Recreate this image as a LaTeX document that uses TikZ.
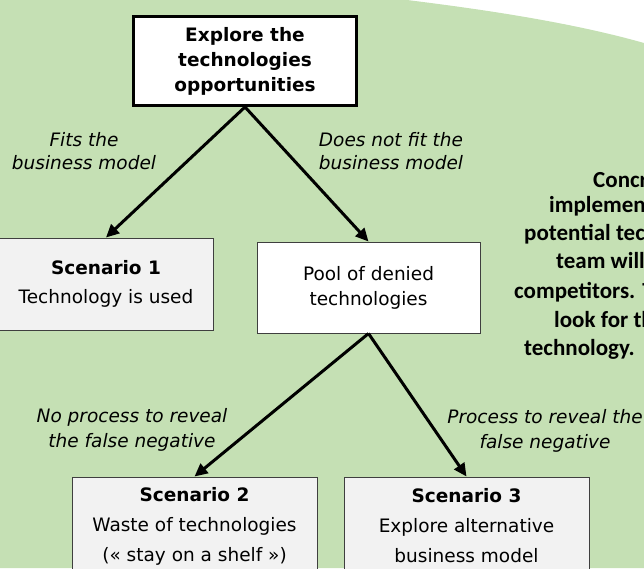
\documentclass[tikz,border=0pt]{standalone}
\usepackage{fontspec}
\setmainfont{DejaVu Sans}[ItalicFont={DejaVu Sans Oblique},BoldFont={DejaVu Sans Bold},BoldItalicFont={DejaVu Sans Bold Oblique}]
\newfontfamily\calibrifont{Carlito}
\usetikzlibrary{arrows.meta}
\definecolor{bggreen}{HTML}{C5E0B4}
\definecolor{scenfill}{HTML}{F2F2F2}
\definecolor{boxline}{HTML}{3F3F3F}
\begin{document}
\begin{tikzpicture}[x=1pt,y=-1pt,
  every node/.style={inner sep=0pt, align=center},
  topbox/.style={draw=black, line width=3pt, fill=white, minimum width=223pt, minimum height=89pt,
    font=\bfseries\fontsize{18.5}{25}\selectfont},
  scenbox/.style={draw=boxline, line width=1pt, fill=scenfill, minimum width=245pt, minimum height=98pt,
    font=\fontsize{18.5}{30}\selectfont},
  poolbox/.style={draw=boxline, line width=1pt, fill=white, minimum width=223pt, minimum height=91pt,
    font=\fontsize{18.5}{25}\selectfont},
  lbl/.style={font=\itshape\fontsize{18.5}{25}\selectfont},
  rtxt/.style={anchor=base west, font=\calibrifont\bfseries\fontsize{23}{28}\selectfont},
  arr/.style={line width=3pt, -{Triangle[length=13pt,width=12pt]}}
]
\useasboundingbox (0,0) rectangle (644,568);
\fill[bggreen] (0,0) -- (407,0) .. controls (480,9) and (570,22) .. (644,43) -- (644,568) -- (0,568) -- cycle;

\node[topbox] (top) at (245,61) {Explore the\\technologies\\opportunities};
\node[scenbox, minimum width=214pt, minimum height=92pt, font=\fontsize{18.5}{29}\selectfont] (s1) at (106,284) {\textbf{Scenario 1}\\Technology is used};
\node[poolbox] (pool) at (368.5,287.5) {Pool of denied\\technologies};
\node[scenbox] (s2) at (194.5,526) {\textbf{Scenario 2}\\Waste of technologies\\(« stay on a shelf »)};
\node[scenbox] (s3) at (466.5,526) {\textbf{Scenario 3}\\Explore alternative\\business model};

\node[lbl, font=\itshape\fontsize{18.5}{23}\selectfont] (l1) at (84,151.5) {Fits the\\business model};
\node[lbl, font=\itshape\fontsize{18.5}{23}\selectfont] (l2) at (391,151.5) {Does not fit the\\business model};
\node[lbl] (l3) at (132,429.5) {No process to reveal\\the false negative};
\node[lbl] (l4) at (545,431) {Process to reveal the\\false negative};

\draw[arr] (top.south) -- (s1.north);
\draw[arr] (top.south) -- (pool.north);
\draw[arr] (pool.south) -- (s2.north);
\draw[arr] (pool.south) -- (s3.north);

\begin{scope}
\clip (0,0) rectangle (644,568);
\node[rtxt] (r1) at (593,187) {Concrete};
\node[rtxt] (r2) at (549,212) {implementation of};
\node[rtxt] (r3) at (524,240) {potential technologies,};
\node[rtxt] (r4) at (556,268) {team will look};
\node[rtxt] (r5) at (514,298) {competitors. They will};
\node[rtxt] (r6) at (554,327) {look for the};
\node[rtxt] (r7) at (524,355) {technology. };
\end{scope}
\end{tikzpicture}
\end{document}
